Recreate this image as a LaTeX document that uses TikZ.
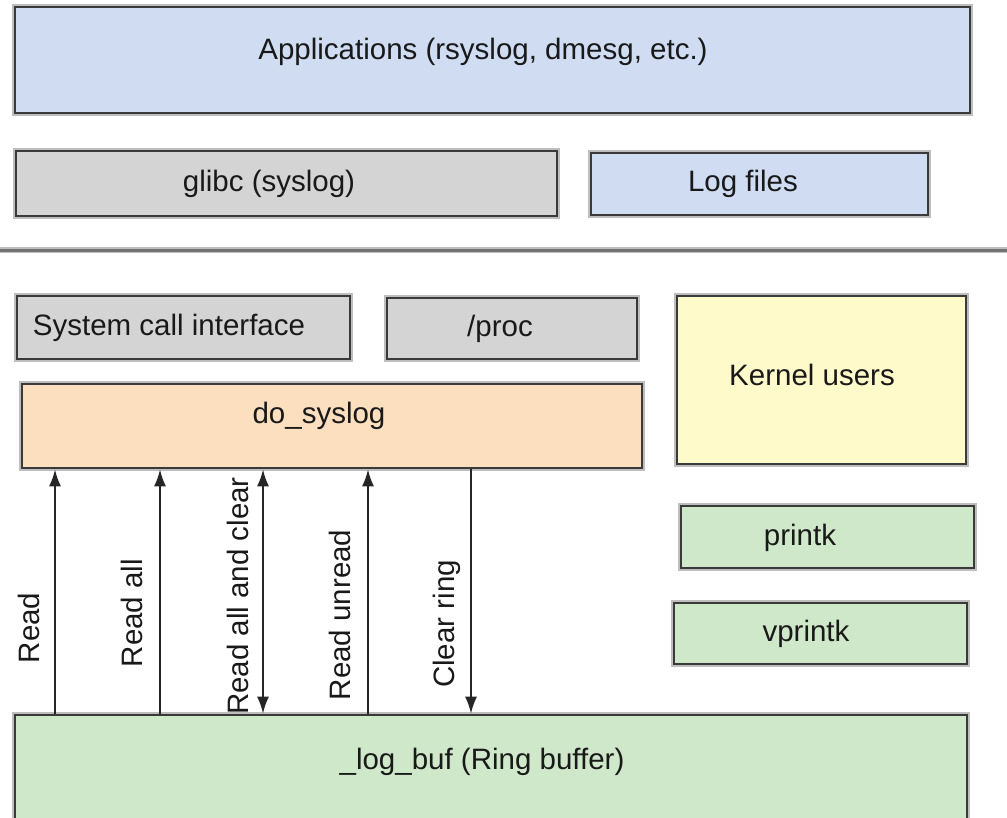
\documentclass[tikz,border=0pt]{standalone}
\usepackage{fontspec}
\setmainfont{Liberation Sans}
\usetikzlibrary{arrows.meta,positioning,calc}
\definecolor{BoxLine}{HTML}{3A3A3A}
\definecolor{BoxHalo}{HTML}{BEBEBE}
\definecolor{UBlue}{HTML}{CFDCF2}
\definecolor{UGray}{HTML}{D4D4D4}
\definecolor{KPeach}{HTML}{FCDFBE}
\definecolor{KYellow}{HTML}{FFFAC9}
\definecolor{KGreen}{HTML}{CFE8CA}

\tikzset{
  blk/.style={draw=BoxLine, line width=2.6pt,
              preaction={draw=BoxHalo, line width=5.5pt},
              inner sep=0pt, anchor=center},
  txt/.style={font=\fontsize{29.5}{34}\selectfont, text=black!90, inner sep=0pt},
  flow/.style={draw=black!85, line width=2pt},
  tip/.style={-{Latex[length=17pt,width=12pt]}},
  tips/.style={{Latex[length=17pt,width=12pt]}-{Latex[length=17pt,width=12pt]}}
}

\begin{document}
\begin{tikzpicture}[x=1pt, y=-1pt]

    \path[use as bounding box, fill=white] (0,0) rectangle (1007,817);
    \clip (0,0) rectangle (1007,817);

    %% user space
    \node[blk, fill=UBlue, minimum width=955pt, minimum height=106pt]
      (apps) at (492.5,60) {};
    \node[txt] (appsT) at (483,52) {Applications (rsyslog, dmesg, etc.)};

    \node[blk, fill=UGray, minimum width=541pt, minimum height=65pt]
      (glibc) at (286.5,183.5) {};
    \node[txt] (glibcT) at (269,184) {glibc (syslog)};

    \node[blk, fill=UBlue, minimum width=337pt, minimum height=62pt]
      (logf) at (759.5,184) {};
    \node[txt] (logfT) at (743,184) {Log files};

    %% user / kernel split
    \draw[BoxHalo, line width=6pt] (0,250) -- (1007,250);
    \draw[black!55, line width=3pt] (0,250) -- (1007,250);

    %% kernel space
    \node[blk, fill=UGray, minimum width=333pt, minimum height=63pt]
      (sci) at (183.5,327.5) {};
    \node[txt] (sciT) at (169,328) {System call interface};

    \node[blk, fill=UGray, minimum width=250pt, minimum height=61pt]
      (proc) at (512,328.5) {};
    \node[txt] (procT) at (500,329) {/proc};

    \node[blk, fill=KYellow, minimum width=289pt, minimum height=168pt]
      (kusr) at (821.5,380) {};
    \node[txt] (kusrT) at (812,375) {Kernel users};

    \node[blk, fill=KPeach, minimum width=620pt, minimum height=84pt]
      (dosys) at (332,426) {};
    \node[txt] (dosysT) at (319,416) {do\_syslog};

    \node[blk, fill=KGreen, minimum width=293pt, minimum height=62pt]
      (printk) at (827.5,537) {};
    \node[txt] (printkT) at (800,538) {printk};

    \node[blk, fill=KGreen, minimum width=293pt, minimum height=61pt]
      (vprintk) at (820.5,633.5) {};
    \node[txt] (vprintkT) at (806,634) {vprintk};

    \node[blk, fill=KGreen, minimum width=952pt, minimum height=165pt]
      (logbuf) at (491,797.5) {};
    \node[txt] (logbufT) at (482,762) {\_log\_buf (Ring buffer)};

    %% syslog actions between buffer and do_syslog
    \coordinate (cRd)  at (55,0);
    \coordinate (cAll) at (160,0);
    \coordinate (cClr) at (263,0);
    \coordinate (cUnr) at (368,0);
    \coordinate (cRng) at (471,0);

    \draw[flow, tip]  (logbuf.north -| cRd)  -- (dosys.south -| cRd);
    \draw[flow, tip]  (logbuf.north -| cAll) -- (dosys.south -| cAll);
    \draw[flow, tips] (logbuf.north -| cClr) -- (dosys.south -| cClr);
    \draw[flow, tip]  (logbuf.north -| cUnr) -- (dosys.south -| cUnr);
    \draw[flow, tip]  (dosys.south -| cRng)  -- (logbuf.north -| cRng);

    \node[txt, rotate=90] (rdT)  at (29,628)  {Read};
    \node[txt, rotate=90] (allT) at (132,613) {Read all};
    \node[txt, rotate=90] (clrT) at (238,596) {Read all and clear};
    \node[txt, rotate=90] (unrT) at (340,615) {Read unread};
    \node[txt, rotate=90] (rngT) at (447,624) {Clear ring};

\end{tikzpicture}
\end{document}
